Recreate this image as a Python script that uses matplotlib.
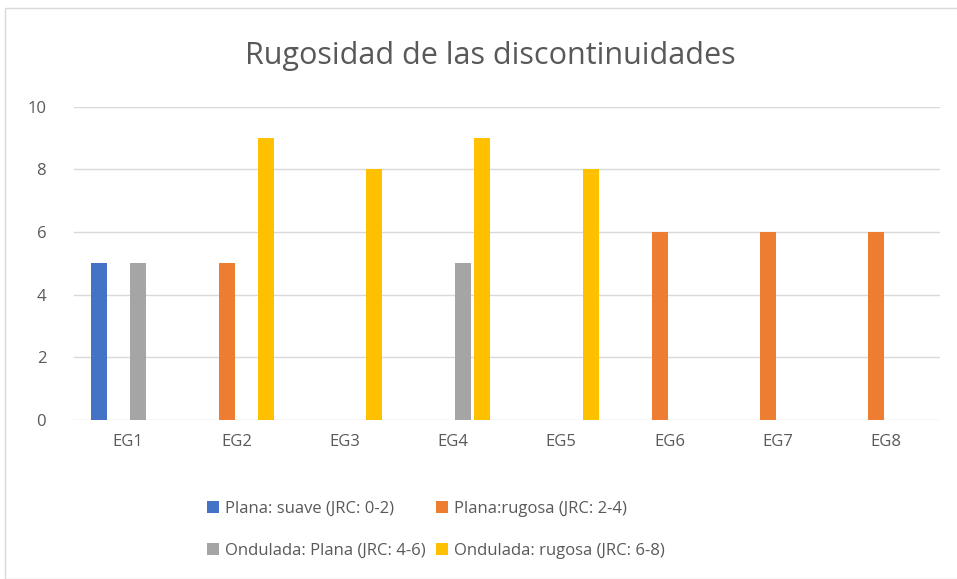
import numpy as np
import matplotlib
matplotlib.use("Agg")
import matplotlib.pyplot as plt
from matplotlib.patches import Rectangle

plt.rcParams['font.family'] = ['Open Sans', 'DejaVu Sans']

categories = ['EG1', 'EG2', 'EG3', 'EG4', 'EG5', 'EG6', 'EG7', 'EG8']
series_names = ['Plana: suave (JRC: 0-2)', 'Plana:rugosa (JRC: 2-4)',
                'Ondulada: Plana (JRC: 4-6)', 'Ondulada: rugosa (JRC: 6-8)']
plana_suave = [5, 0, 0, 0, 0, 0, 0, 0]
plana_rugosa = [0, 5, 0, 0, 0, 6, 6, 6]
ondulada_plana = [5, 0, 0, 5, 0, 0, 0, 0]
ondulada_rugosa = [0, 9, 8, 9, 8, 0, 0, 0]
colors = ['#4472C4', '#ED7D31', '#A5A5A5', '#FFC000']

text_color = '#595959'

fig = plt.figure(figsize=(9.57, 5.79), dpi=100)
W, H = 957, 579

# chart border (Excel style)
fig.patches.append(Rectangle((5 / W, 0), 1.0, 1 - 8 / H, transform=fig.transFigure,
                             fill=False, edgecolor='#D9D9D9', linewidth=1))

ax = fig.add_axes([74 / W, (H - 420) / H, 866 / W, (420 - 106.7) / H])

x = np.arange(len(categories))
slot = 0.182
bw = 0.148
all_series = [plana_suave, plana_rugosa, ondulada_plana, ondulada_rugosa]
bars = []
for k, vals in enumerate(all_series):
    b = ax.bar(x + (k - 1.5) * slot, vals, width=bw, color=colors[k],
               label=series_names[k], zorder=3)
    bars.append(b)

ax.set_xlim(-0.5, len(categories) - 0.5)
ax.set_ylim(0, 10)
ax.set_yticks([0, 2, 4, 6, 8, 10])
ax.set_xticks(x)
ax.set_xticklabels(categories)
ax.grid(axis='y', color='#D9D9D9', linewidth=1, zorder=0)
for s in ax.spines.values():
    s.set_visible(False)
ax.tick_params(length=0, labelsize=12, colors=text_color)
ax.tick_params(axis='y', pad=20)
ax.tick_params(axis='x', pad=10)

fig.text(490 / W, 1 - 56 / H, 'Rugosidad de las discontinuidades', ha='center',
         va='center', fontsize=22, color=text_color)

# legend filled row by row, like Excel
order = [0, 2, 1, 3]
leg = fig.legend([bars[i] for i in order], [series_names[i] for i in order],
                 loc='upper left', bbox_to_anchor=(192 / W, 1 - 486 / H), ncol=2,
                 frameon=False, fontsize=12, handlelength=0.7, handleheight=0.7,
                 handletextpad=0.4, labelspacing=1.55, columnspacing=0.6)
for t in leg.get_texts():
    t.set_color(text_color)

plt.savefig('out.png', dpi=100)
